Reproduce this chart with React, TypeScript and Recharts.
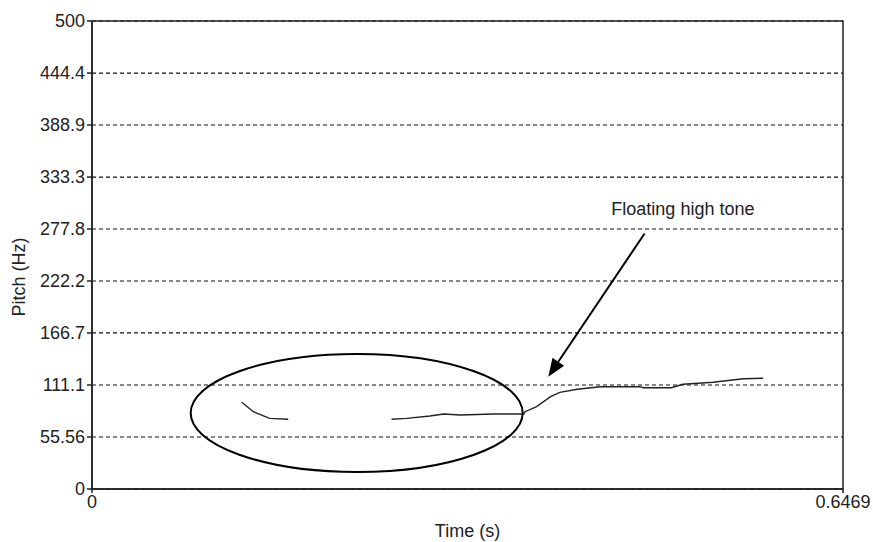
import { LineChart, Line, XAxis, YAxis, CartesianGrid, ReferenceArea, ReferenceDot, ReferenceLine } from "recharts";

// pitch track (null = unvoiced gap)
const times = [
  0.129, 0.139, 0.153, 0.169, 0.2135, 0.258, 0.271, 0.291, 0.303, 0.317, 0.346, 0.372, 0.373, 0.383, 0.395,
  0.403, 0.418, 0.438, 0.472, 0.475, 0.499, 0.509, 0.535, 0.561, 0.578,
];
const pitch = [
  92.6, 82.6, 75.5, 74.5, null, 74.5, 75.5, 78, 80.1, 79, 80.1, 80.1, 82.6, 88, 98.6,
  103.3, 106.5, 109.3, 109.3, 108.2, 108.2, 111.9, 114, 117.8, 118.3,
];
const yTicks = [0, 55.56, 111.1, 166.7, 222.2, 277.8, 333.3, 388.9, 444.4, 500];
const xTicks = [0, 0.6469];

// annotation anchors in data units
const circleCenter = { t: 0.228, hz: 81.2 };
const arrowFrom = { t: 0.476, hz: 273 };
const arrowTo = { t: 0.393, hz: 120 };
const noteAt = { t: 0.509, hz: 298, text: "Floating high tone" };

const data = times.map((t, i) => ({ t, hz: pitch[i] }));

const font = "'Liberation Sans', Arial, sans-serif";
const ink = "#222";

function Ellipse(props: any) {
  return <ellipse cx={props.cx} cy={props.cy} rx={166} ry={59} fill="none" stroke="#000" strokeWidth={2} />;
}

function Arrow(props: any) {
  const { x1, y1, x2, y2 } = props;
  const dx = x2 - x1;
  const dy = y2 - y1;
  const len = Math.sqrt(dx * dx + dy * dy);
  const ux = dx / len;
  const uy = dy / len;
  const head = 18;
  const half = 7;
  const bx = x2 - ux * head;
  const by = y2 - uy * head;
  const pts = `${x2},${y2} ${bx - uy * half},${by + ux * half} ${bx + uy * half},${by - ux * half}`;
  return (
    <g>
      <line x1={x1} y1={y1} x2={bx} y2={by} stroke="#000" strokeWidth={2} />
      <polygon points={pts} fill="#000" />
    </g>
  );
}

function Note(props: any) {
  return (
    <text x={props.cx} y={props.cy} textAnchor="middle" dominantBaseline="middle" fontSize={18} fill={ink} fontFamily={font}>
      {noteAt.text}
    </text>
  );
}

export default function App() {
  return (
    <div style={{ position: "absolute", left: 0, top: 0, width: 873, height: 542, background: "#fff" }}>
      <LineChart width={873} height={542} data={data} margin={{ top: 21, right: 30, left: 0, bottom: 0 }} style={{ fontFamily: font }}>
        <CartesianGrid vertical={false} stroke="#111" strokeWidth={1.2} strokeDasharray="4 3" />
        <XAxis
          dataKey="t"
          type="number"
          domain={[0, 0.6469]}
          ticks={xTicks}
          tickFormatter={(v) => String(v)}
          height={53}
          tickSize={4}
          stroke={ink}
          strokeWidth={1.5}
          tick={{ fontSize: 18, fill: ink }}
          label={{ value: "Time (s)", position: "insideBottom", offset: 5, fontSize: 18, fill: ink }}
        />
        <YAxis
          type="number"
          domain={[0, 500]}
          ticks={yTicks}
          tickFormatter={(v) => String(v)}
          width={92}
          tickSize={5}
          stroke={ink}
          strokeWidth={1.5}
          tick={{ fontSize: 18, fill: ink }}
          label={{ value: "Pitch (Hz)", angle: -90, position: "insideLeft", offset: 19, dy: 22, fontSize: 18, fill: ink, style: { textAnchor: "middle" } }}
        />
        <ReferenceArea x1={0} x2={0.6469} y1={0} y2={500} fill="none" stroke={ink} strokeWidth={1.5} />
        <Line type="linear" dataKey="hz" stroke="#222" strokeWidth={1.4} dot={false} connectNulls={false} isAnimationActive={false} />
        <ReferenceDot x={circleCenter.t} y={circleCenter.hz} shape={Ellipse} />
        <ReferenceLine
          segment={[
            { x: arrowFrom.t, y: arrowFrom.hz },
            { x: arrowTo.t, y: arrowTo.hz },
          ]}
          shape={Arrow}
        />
        <ReferenceDot x={noteAt.t} y={noteAt.hz} shape={Note} />
      </LineChart>
    </div>
  );
}
